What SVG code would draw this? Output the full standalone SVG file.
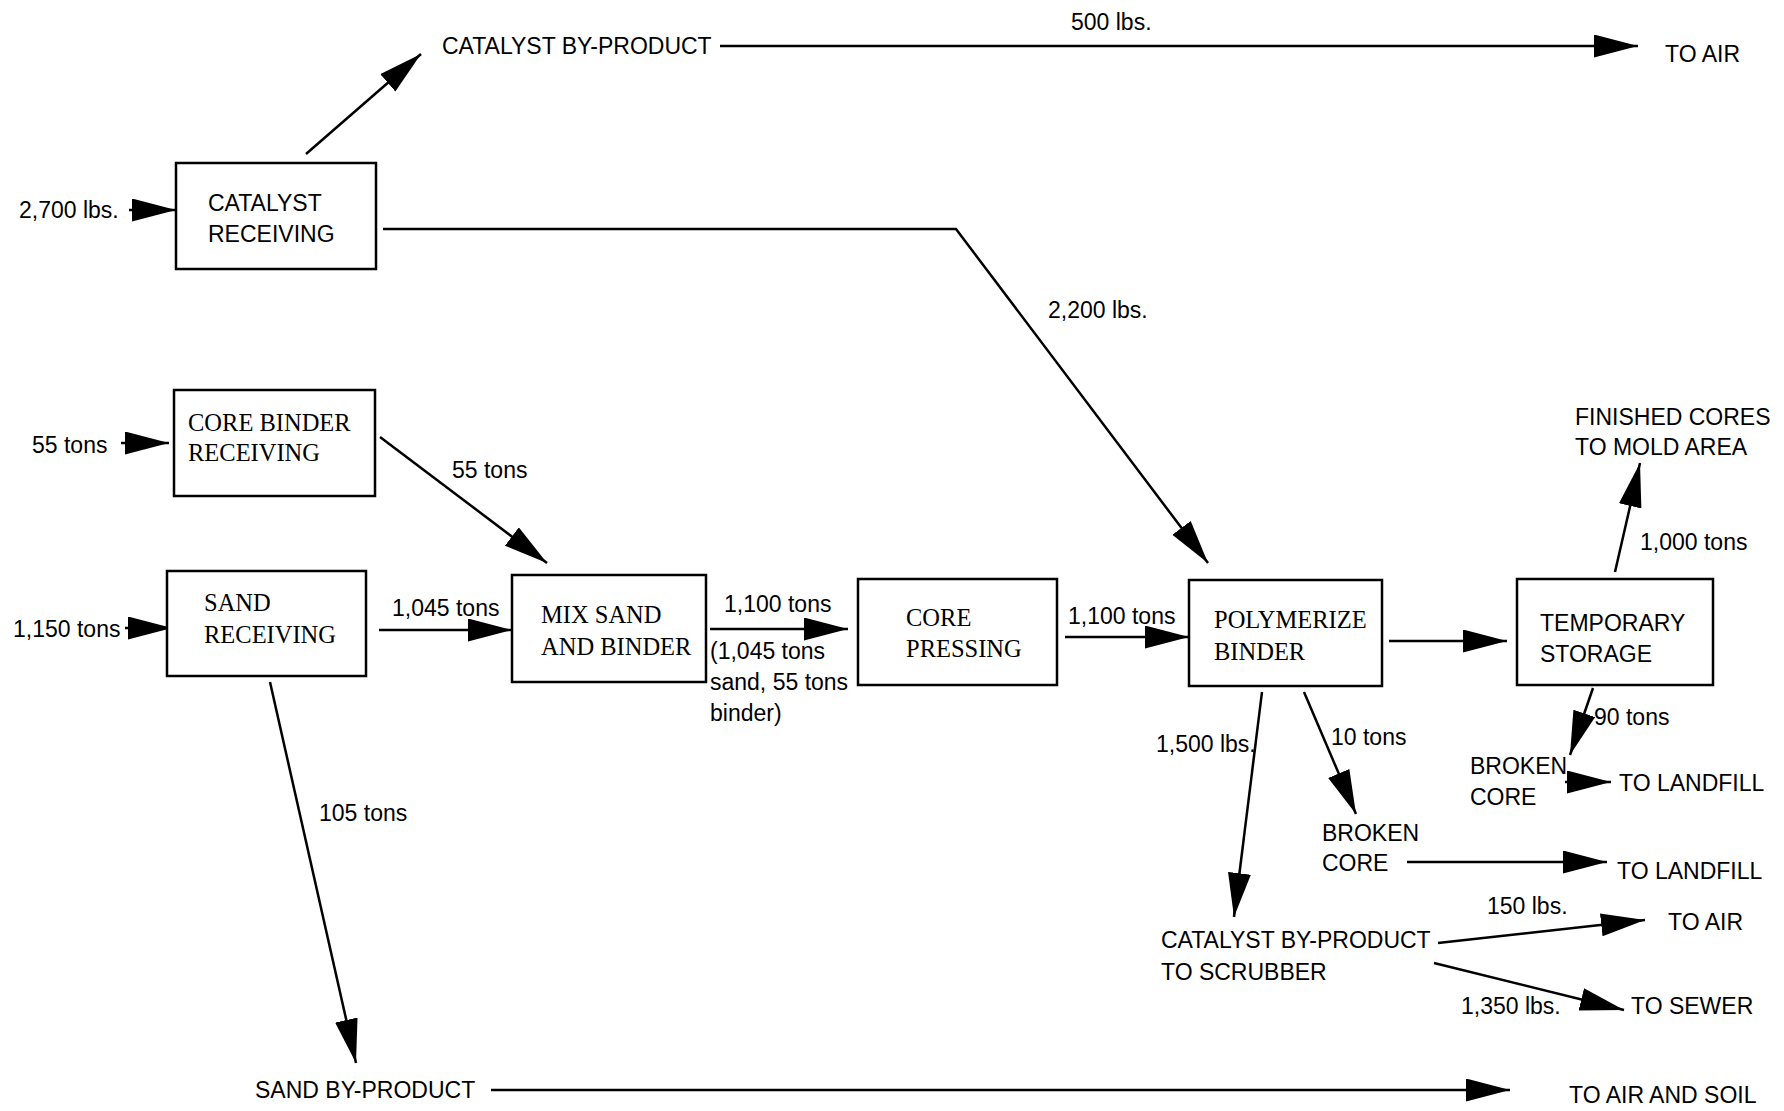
<svg xmlns="http://www.w3.org/2000/svg" width="1784" height="1111" viewBox="0 0 1784 1111">
<defs>
<marker id="ah" markerUnits="userSpaceOnUse" markerWidth="46" markerHeight="26" refX="44" refY="11.5" orient="auto">
<path d="M0,0 L44,11.5 L0,23 z" fill="#000"/>
</marker>
<style>
.box{fill:#fff;stroke:#000;stroke-width:2.5}
.c{fill:none;stroke:#000;stroke-width:2.5;marker-end:url(#ah)}
.s{font-family:"Liberation Sans",Arial,sans-serif;font-size:23px;fill:#000}
.t{font-family:"Liberation Serif","Times New Roman",serif;font-size:24.5px;fill:#000}
</style>
</defs>
<rect width="1784" height="1111" fill="#fff"/>

<g id="connectors">
<path class="c" d="M129,210 L176,210"/>
<path class="c" d="M306,154 L421,54"/>
<path class="c" d="M720,46 L1638,46"/>
<path class="c" d="M383,229 L956,229 L1208,563"/>
<path class="c" d="M121,443 L169,443"/>
<path class="c" d="M380,437 L547,563"/>
<path class="c" d="M125,628 L172,628"/>
<path class="c" d="M379,630 L512,630"/>
<path class="c" d="M710,629 L848,629"/>
<path class="c" d="M1065,637 L1189,637"/>
<path class="c" d="M1389,641 L1507,641"/>
<path class="c" d="M1615,572 L1640,463"/>
<path class="c" d="M1593,688 L1570,755"/>
<path class="c" d="M1565,782 L1611,782"/>
<path class="c" d="M1262,692 L1234,917"/>
<path class="c" d="M1304,692 L1356,814"/>
<path class="c" d="M1407,862 L1607,862"/>
<path class="c" d="M1438,943 L1645,920"/>
<path class="c" d="M1434,963 L1624,1010"/>
<path class="c" d="M270,682 L356,1063"/>
<path class="c" d="M491,1090 L1510,1090"/>
</g>

<g id="flow-labels">
<text class="s" x="19" y="218">2,700 lbs.</text>
<text class="s" x="1071" y="30">500 lbs.</text>
<text class="s" x="1048" y="318">2,200 lbs.</text>
<text class="s" x="32" y="453">55 tons</text>
<text class="s" x="452" y="478">55 tons</text>
<text class="s" x="13" y="637">1,150 tons</text>
<text class="s" x="392" y="616">1,045 tons</text>
<text class="s" x="724" y="612">1,100 tons</text>
<text class="s" x="710" y="659">(1,045 tons</text>
<text class="s" x="710" y="690">sand, 55 tons</text>
<text class="s" x="710" y="721">binder)</text>
<text class="s" x="1068" y="624">1,100 tons</text>
<text class="s" x="1640" y="550">1,000 tons</text>
<text class="s" x="1594" y="725">90 tons</text>
<text class="s" x="1156" y="752">1,500 lbs.</text>
<text class="s" x="1331" y="745">10 tons</text>
<text class="s" x="319" y="821">105 tons</text>
<text class="s" x="1487" y="914">150 lbs.</text>
<text class="s" x="1461" y="1014">1,350 lbs.</text>
</g>

<g id="catalyst-receiving">
<rect class="box" x="176" y="163" width="200" height="106"/>
<text class="s" x="208" y="211">CATALYST</text>
<text class="s" x="208" y="242">RECEIVING</text>
</g>
<g id="core-binder-receiving">
<rect class="box" x="174" y="390" width="201" height="106"/>
<text class="t" x="188" y="431">CORE BINDER</text>
<text class="t" x="188" y="461">RECEIVING</text>
</g>
<g id="sand-receiving">
<rect class="box" x="167" y="571" width="199" height="105"/>
<text class="t" x="204" y="611">SAND</text>
<text class="t" x="204" y="643">RECEIVING</text>
</g>
<g id="mix-sand-binder">
<rect class="box" x="512" y="575" width="194" height="107"/>
<text class="t" x="541" y="623">MIX SAND</text>
<text class="t" x="541" y="655">AND BINDER</text>
</g>
<g id="core-pressing">
<rect class="box" x="858" y="579" width="199" height="106"/>
<text class="t" x="906" y="626">CORE</text>
<text class="t" x="906" y="657">PRESSING</text>
</g>
<g id="polymerize-binder">
<rect class="box" x="1189" y="580" width="193" height="106"/>
<text class="t" x="1214" y="628">POLYMERIZE</text>
<text class="t" x="1214" y="660">BINDER</text>
</g>
<g id="temporary-storage">
<rect class="box" x="1517" y="579" width="196" height="106"/>
<text class="s" x="1540" y="631">TEMPORARY</text>
<text class="s" x="1540" y="662">STORAGE</text>
</g>

<g id="catalyst-by-product">
<text class="s" x="442" y="54">CATALYST BY-PRODUCT</text>
</g>
<g id="to-air-1">
<text class="s" x="1665" y="62">TO AIR</text>
</g>
<g id="finished-cores">
<text class="s" x="1575" y="425">FINISHED CORES</text>
<text class="s" x="1575" y="455">TO MOLD AREA</text>
</g>
<g id="broken-core-1">
<text class="s" x="1470" y="774">BROKEN</text>
<text class="s" x="1470" y="805">CORE</text>
</g>
<g id="to-landfill-1">
<text class="s" x="1619" y="791">TO LANDFILL</text>
</g>
<g id="broken-core-2">
<text class="s" x="1322" y="841">BROKEN</text>
<text class="s" x="1322" y="871">CORE</text>
</g>
<g id="to-landfill-2">
<text class="s" x="1617" y="879">TO LANDFILL</text>
</g>
<g id="catalyst-to-scrubber">
<text class="s" x="1161" y="948">CATALYST BY-PRODUCT</text>
<text class="s" x="1161" y="980">TO SCRUBBER</text>
</g>
<g id="to-air-2">
<text class="s" x="1668" y="930">TO AIR</text>
</g>
<g id="to-sewer">
<text class="s" x="1631" y="1014">TO SEWER</text>
</g>
<g id="sand-by-product">
<text class="s" x="255" y="1098">SAND BY-PRODUCT</text>
</g>
<g id="to-air-and-soil">
<text class="s" x="1569" y="1103">TO AIR AND SOIL</text>
</g>
</svg>
